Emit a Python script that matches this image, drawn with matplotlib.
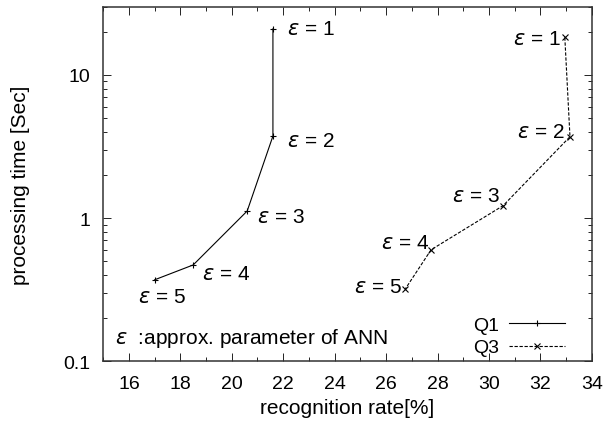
import numpy as np
import matplotlib.pyplot as plt
from matplotlib.ticker import LogLocator, NullFormatter, FixedLocator

plt.rcParams['font.family'] = ['Liberation Sans', 'DejaVu Sans']

# datos
eps = [1, 2, 3, 4, 5]
q1_rate = [21.6, 21.6, 20.6, 18.5, 17.0]
q1_time = [21.0, 3.74, 1.12, 0.47, 0.37]
q3_rate = [32.95, 33.15, 30.55, 27.75, 26.75]
q3_time = [18.3, 3.7, 1.22, 0.60, 0.32]

fig = plt.figure(figsize=(6.07, 4.27), dpi=100)
ax = fig.add_axes([0.170, 0.152, 0.805, 0.830])

ax.plot(q1_rate, q1_time, color='black', lw=0.8, marker='+', ms=5, mew=0.8, label='Q1')
ax.plot(q3_rate, q3_time, color='black', lw=0.8, ls=(0, (3, 1.5)), marker='x', ms=4, mew=0.8, label='Q3')

ax.set_yscale('log')
ax.set_xlim(15, 34)
ax.set_ylim(0.1, 30)

# etiquetas epsilon
fs = 14
fl = 15
q1_off = [(0.55, 0), (0.55, -0.028), (0.38, -0.036), (0.35, -0.06), (-0.63, -0.12)]
for e, x, y, (dx, dl) in zip(eps, q1_rate, q1_time, q1_off):
    ax.text(x + dx, y * 10 ** dl, r'$\varepsilon$ = %d' % e, fontsize=fl, ha='left', va='center')
q3_off = [(-0.15, -0.01), (-0.22, 0.034), (-0.12, 0.069), (-0.09, 0.054), (-0.12, 0.019)]
for e, x, y, (dx, dl) in zip(eps, q3_rate, q3_time, q3_off):
    ax.text(x + dx, y * 10 ** dl, r'$\varepsilon$ = %d' % e, fontsize=fl, ha='right', va='center')

ax.text(15.47, 0.146, r'$\varepsilon$  :approx. parameter of ANN', fontsize=fl, ha='left', va='center')

ax.legend(loc='lower right', bbox_to_anchor=(1 - 25 / 489, 0.008), frameon=False,
          markerfirst=False, fontsize=fs, handlelength=2.9, numpoints=1,
          borderaxespad=0, borderpad=0.1, labelspacing=0.25, handletextpad=0.5)

ax.xaxis.set_major_locator(FixedLocator(np.arange(16, 35, 2)))
ax.xaxis.set_minor_locator(FixedLocator(np.arange(15, 34, 2)))
ax.yaxis.set_major_locator(FixedLocator([0.1, 1, 10]))
ax.set_yticklabels(['0.1', '1', '10'])
ax.yaxis.set_minor_locator(LogLocator(base=10, subs=np.arange(2, 10)))
ax.yaxis.set_minor_formatter(NullFormatter())
ax.tick_params(which='both', direction='in', top=True, right=True, labelsize=fs, width=0.6)
ax.tick_params(which='major', length=6)
ax.tick_params(which='minor', length=3)
ax.tick_params(axis='x', which='major', pad=10)
ax.tick_params(axis='y', which='major', pad=9)
for s in ax.spines.values():
    s.set_linewidth(1.1)
    s.set_color('#333333')

ax.set_xlabel('recognition rate[%]', fontsize=fl, va='center')
ax.xaxis.set_label_coords(0.5, -46 / 354)
ax.set_ylabel('processing time [Sec]', fontsize=fl, va='center')
ax.yaxis.set_label_coords(-83 / 489, 0.5)

fig.savefig('out.png', dpi=100)
